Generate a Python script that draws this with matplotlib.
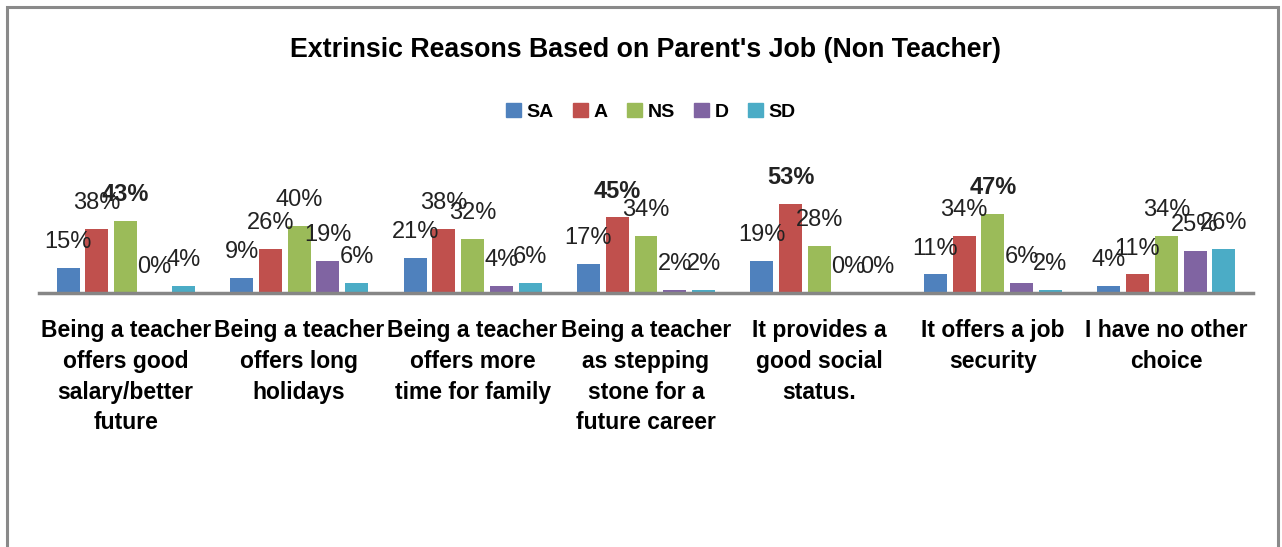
import matplotlib
matplotlib.use("Agg")
import matplotlib.pyplot as plt
import matplotlib.patches as mpatches
import numpy as np

categories = [
    "Being a teacher\noffers good\nsalary/better\nfuture",
    "Being a teacher\noffers long\nholidays",
    "Being a teacher\noffers more\ntime for family",
    "Being a teacher\nas stepping\nstone for a\nfuture career",
    "It provides a\ngood social\nstatus.",
    "It offers a job\nsecurity",
    "I have no other\nchoice",
]
series_names = ["SA", "A", "NS", "D", "SD"]
SA = [15, 9, 21, 17, 19, 11, 4]
A = [38, 26, 38, 45, 53, 34, 11]
NS = [43, 40, 32, 34, 28, 47, 34]
D = [0, 19, 4, 2, 0, 6, 25]
SD = [4, 6, 6, 2, 0, 2, 26]
series = [SA, A, NS, D, SD]
colors = ["#4F81BD", "#C0504D", "#9BBB59", "#8064A2", "#4BACC6"]

FONT = ["Liberation Sans Narrow", "Liberation Sans", "DejaVu Sans"]
plt.rcParams["font.family"] = FONT

W, H = 1282, 547
fig = plt.figure(figsize=(W / 100, H / 100), dpi=100)

# outer chart border
fig.patches.append(mpatches.Rectangle((7 / W, -0.05), (1278 - 7) / W, 1.05 - 7 / H,
                                      transform=fig.transFigure, fill=False,
                                      edgecolor="#8a8a8a", linewidth=2.2, clip_on=False))

ax_left, ax_right = 39 / W, 1253 / W
ax_bottom = (H - 293) / H
ax_height = 101 / H
ax = fig.add_axes([ax_left, ax_bottom, ax_right - ax_left, ax_height])

x = np.arange(len(categories))
slot = 0.1658
bw = 0.1326
for i, (vals, c, name) in enumerate(zip(series, colors, series_names)):
    pos = x + (i - 2) * slot
    ax.bar(pos, np.array(vals) / 100.0, width=bw, color=c, label=name, zorder=2)
    for p, v in zip(pos, vals):
        ax.annotate(f"{v}%", (p, v / 100.0), xytext=(0, 18.7), textcoords="offset points",
                    ha="center", va="center", fontsize=17, color="#222222",
                    fontweight="bold" if v > 42 else "normal", annotation_clip=False)

ax.set_xlim(-0.5, len(categories) - 0.5)
ax.set_ylim(0, 0.6)
for s in ["top", "right", "left"]:
    ax.spines[s].set_visible(False)
ax.spines["bottom"].set_color("#868686")
ax.spines["bottom"].set_linewidth(2.5)
ax.set_yticks([])
ax.set_xticks(x)
ax.set_xticklabels(categories, fontsize=16.5, fontweight="bold", linespacing=1.42)
ax.tick_params(axis="x", length=0, pad=19)

fig.text(646 / W, 1 - 50 / H, "Extrinsic Reasons Based on Parent's Job (Non Teacher)",
         ha="center", va="center", fontsize=19.3, fontweight="bold")

handles = [mpatches.Patch(color=c) for c in colors]
fig.legend(handles, series_names, loc="center", bbox_to_anchor=(651 / W, 1 - 112 / H),
           ncol=5, frameon=False, handlelength=0.75, handleheight=0.75,
           handletextpad=0.3, columnspacing=1.0, prop={"weight": "bold", "size": 14})

fig.savefig("out.png", dpi=100)
